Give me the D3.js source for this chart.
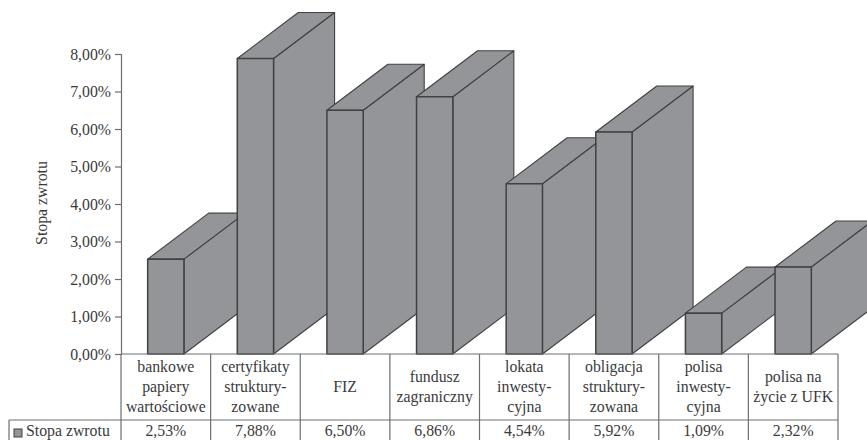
<!DOCTYPE html>
<html lang="pl">
<head>
<meta charset="utf-8">
<title>Stopa zwrotu</title>
<script src="https://cdnjs.cloudflare.com/ajax/libs/d3/7.8.5/d3.min.js"></script>
<style>
  html, body { margin: 0; padding: 0; background: #fff; overflow: hidden; }
  svg { display: block; font-family: "Liberation Serif", serif; }
  text { fill: #3a3a3c; }
</style>
</head>
<body>
<svg id="chart" width="867" height="440"></svg>
<script>
// Wrapped category names, one inner array per table column
const categories = [
  ["bankowe", "papiery", "wartościowe"],
  ["certyfikaty", "struktury-", "zowane"],
  ["FIZ"],
  ["fundusz", "zagraniczny"],
  ["lokata", "inwesty-", "cyjna"],
  ["obligacja", "struktury-", "zowana"],
  ["polisa", "inwesty-", "cyjna"],
  ["polisa na", "życie z UFK"]
];
const values = [2.53, 7.88, 6.50, 6.86, 4.54, 5.92, 1.09, 2.32];
const yTicks = [0, 1, 2, 3, 4, 5, 6, 7, 8];
const seriesName = "Stopa zwrotu";
const axisTitle = "Stopa zwrotu";

const barFill = "#939598";
const barStroke = "#414042";
const ruleColor = "#6d6e71";
const fontSize = 15.8;

const plLocale = d3.formatLocale({ decimal: ",", thousands: " ", grouping: [3], currency: ["", " zł"] });
const fmtPct = v => plLocale.format(".2f")(v) + "%";

const svg = d3.select("#chart");
const indices = d3.range(categories.length);

const x = d3.scaleBand().domain(indices).range([121, 838]);
const y = d3.scaleLinear().domain([0, 8]).range([354, 54]);

const barWidth = x.bandwidth() * 0.405;
const depthX = 61, depthY = 46;
const tableRow = 420, tableBottom = 446, legendLeft = 9;
const valueBaseline = 436.4;

// Vertical axis
const axis = d3.axisLeft(y).tickValues(yTicks).tickFormat(fmtPct).tickSize(6).tickPadding(4);
const axisG = svg.append("g").attr("transform", "translate(121,0)").call(axis);
axisG.selectAll("path, line").attr("stroke", ruleColor).attr("stroke-width", 1.2);
axisG.selectAll("text").attr("font-size", fontSize).attr("font-family", "Liberation Serif").style("fill", "#3a3a3c");

svg.append("text")
  .attr("transform", "translate(47,203) rotate(-90)")
  .attr("text-anchor", "middle")
  .attr("font-size", fontSize)
  .text(axisTitle);

// Extruded bars, painted left to right so each one overlaps the previous depth
const bars = svg.append("g").selectAll("g").data(indices).join("g")
  .attr("stroke", barStroke)
  .attr("stroke-linejoin", "round")
  .attr("fill", barFill);

const left = i => x(i) + (x.bandwidth() - barWidth) / 2;
const poly = pts => pts.map(p => p.join(",")).join(" ");

bars.append("polygon")   // side face
  .attr("stroke-width", 1.1)
  .attr("points", i => {
    const r = left(i) + barWidth;
    return poly([[r, y(values[i])], [r + depthX, y(values[i]) - depthY], [r + depthX, y(0) - depthY], [r, y(0)]]);
  });
bars.append("polygon")   // top face
  .attr("stroke-width", 1.1)
  .attr("points", i => {
    const l = left(i), t = y(values[i]);
    return poly([[l, t], [l + depthX, t - depthY], [l + barWidth + depthX, t - depthY], [l + barWidth, t]]);
  });
bars.append("rect")      // front face
  .attr("stroke-width", 1.5)
  .attr("x", left)
  .attr("y", i => y(values[i]))
  .attr("width", barWidth)
  .attr("height", i => y(0) - y(values[i]));

// Data table beneath the plot
const rules = svg.append("g").attr("stroke", ruleColor).attr("stroke-width", 1.2);
rules.append("line").attr("x1", 121).attr("x2", 838).attr("y1", y(0)).attr("y2", y(0));
rules.append("line").attr("x1", legendLeft).attr("x2", 838).attr("y1", tableRow).attr("y2", tableRow);
rules.append("line").attr("x1", legendLeft).attr("x2", legendLeft).attr("y1", tableRow).attr("y2", tableBottom);
rules.selectAll(".col").data(d3.range(categories.length + 1)).join("line")
  .attr("class", "col")
  .attr("x1", i => 121 + i * x.step()).attr("x2", i => 121 + i * x.step())
  .attr("y1", y(0)).attr("y2", tableBottom);

const labels = svg.append("g").attr("text-anchor", "middle").attr("font-size", fontSize)
  .selectAll("text").data(indices).join("text")
  .attr("x", i => x(i) + x.bandwidth() / 2);
labels.selectAll("tspan").data(i => categories[i].map(line => ({ line, n: categories[i].length }))).join("tspan")
  .attr("x", function () { return d3.select(this.parentNode).attr("x"); })
  .attr("y", (d, k) => 392 - (d.n - 1) * 10 + k * 20)
  .text(d => d.line);

svg.append("g").attr("text-anchor", "middle").attr("font-size", fontSize)
  .selectAll("text").data(indices).join("text")
  .attr("x", i => x(i) + x.bandwidth() / 2)
  .attr("y", valueBaseline)
  .text(i => fmtPct(values[i]));

// Legend key in the first table cell
svg.append("rect").attr("x", 14).attr("y", 429).attr("width", 8).attr("height", 8)
  .attr("fill", barFill).attr("stroke", barStroke).attr("stroke-width", 1);
svg.append("text").attr("x", 26).attr("y", valueBaseline).attr("font-size", fontSize).text(seriesName);
</script>
</body>
</html>
